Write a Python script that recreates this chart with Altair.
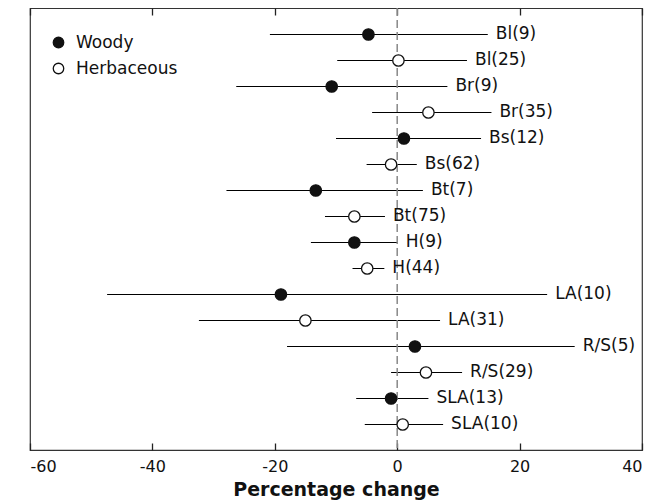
import altair as alt
import pandas as pd

labels = ["Bl(9)", "Bl(25)", "Br(9)", "Br(35)", "Bs(12)", "Bs(62)", "Bt(7)", "Bt(75)",
          "H(9)", "H(44)", "LA(10)", "LA(31)", "R/S(5)", "R/S(29)", "SLA(13)", "SLA(10)"]
groups = ["Woody", "Herbaceous"] * 8
means = [-4.7, 0.2, -10.7, 5.1, 1.1, -1.0, -13.3, -7.0, -7.0, -4.9, -19.0, -15.0, 2.9, 4.7, -1.0, 0.9]
lows = [-20.8, -9.8, -26.3, -4.1, -10.0, -5.0, -27.9, -11.8, -14.1, -7.3, -47.4, -32.4, -18.0, -1.0, -6.7, -5.3]
highs = [14.8, 11.4, 8.2, 15.4, 13.7, 3.2, 4.2, -2.0, 0.1, -2.1, 24.5, 7.0, 29.0, 10.6, 5.1, 7.5]
x_ticks = [-60, -40, -20, 0, 20, 40]

df = pd.DataFrame({
    "label": labels,
    "group": groups,
    "mean": means,
    "low": lows,
    "high": highs,
    "row": list(range(1, len(labels) + 1)),
})
zero = pd.DataFrame({"x": [0]})

FONT = "DejaVu Sans"
xscale = alt.Scale(domain=[-60, 40], nice=False, zero=False)
yscale = alt.Scale(domain=[0, 17], reverse=True)

x_bottom = alt.X("mean:Q", scale=xscale, title="Percentage change",
                 axis=alt.Axis(values=x_ticks, orient="bottom", offset=-7, tickSize=7,
                               tickWidth=1.3, domain=False, grid=False, labelPadding=8,
                               labelFontSize=16, labelFont=FONT, labelColor="#111",
                               tickColor="#222", labelExpr="'' + datum.value",
                               titleFont=FONT, titleFontSize=19, titleFontWeight="bold",
                               titleColor="#111", titlePadding=6))
y_enc = alt.Y("row:Q", scale=yscale, axis=None)

base = alt.Chart(df)

rules = base.mark_rule(color="#000", strokeWidth=1.1, yOffset=0.5).encode(
    x=alt.X("low:Q", scale=xscale, axis=None), x2="high:Q", y=y_enc)

zero_line = alt.Chart(zero).mark_rule(color="#888", strokeWidth=1.5, strokeDash=[8, 4]).encode(
    x=alt.X("x:Q", scale=xscale,
            axis=alt.Axis(values=x_ticks, orient="top", offset=-7, tickSize=7, tickWidth=1.3,
                          domain=False, grid=False, labels=False, title=None,
                          tickColor="#222")))

points = base.mark_point(shape="circle", size=130, opacity=1, strokeWidth=1.3,
                         stroke="#111", filled=False, yOffset=0.5).encode(
    x=x_bottom, y=y_enc,
    fill=alt.Fill("group:N",
                  scale=alt.Scale(domain=["Woody", "Herbaceous"], range=["#111", "white"]),
                  legend=alt.Legend(title=None, orient="none", legendX=20, legendY=26,
                                    symbolType="circle", symbolSize=110, symbolStrokeColor="#111",
                                    symbolStrokeWidth=1.3, labelFont=FONT, labelFontSize=17,
                                    labelColor="#111", labelOffset=9, rowPadding=8, padding=0)))

texts = base.mark_text(align="left", baseline="middle", dx=8, font=FONT, fontSize=17,
                       color="#111").encode(
    x=alt.X("high:Q", scale=xscale, axis=None), y=y_enc, text="label:N")

chart = alt.layer(rules, zero_line, points, texts).resolve_axis(x="independent").properties(
    width=612, height=442,
    autosize=alt.AutoSizeParams(type="none"),
    padding={"left": 22, "top": 0, "right": 14, "bottom": 50},
).configure_view(stroke="#333", strokeWidth=1.2)

chart.save("out.html", embed_options={"renderer": "svg", "actions": False})
